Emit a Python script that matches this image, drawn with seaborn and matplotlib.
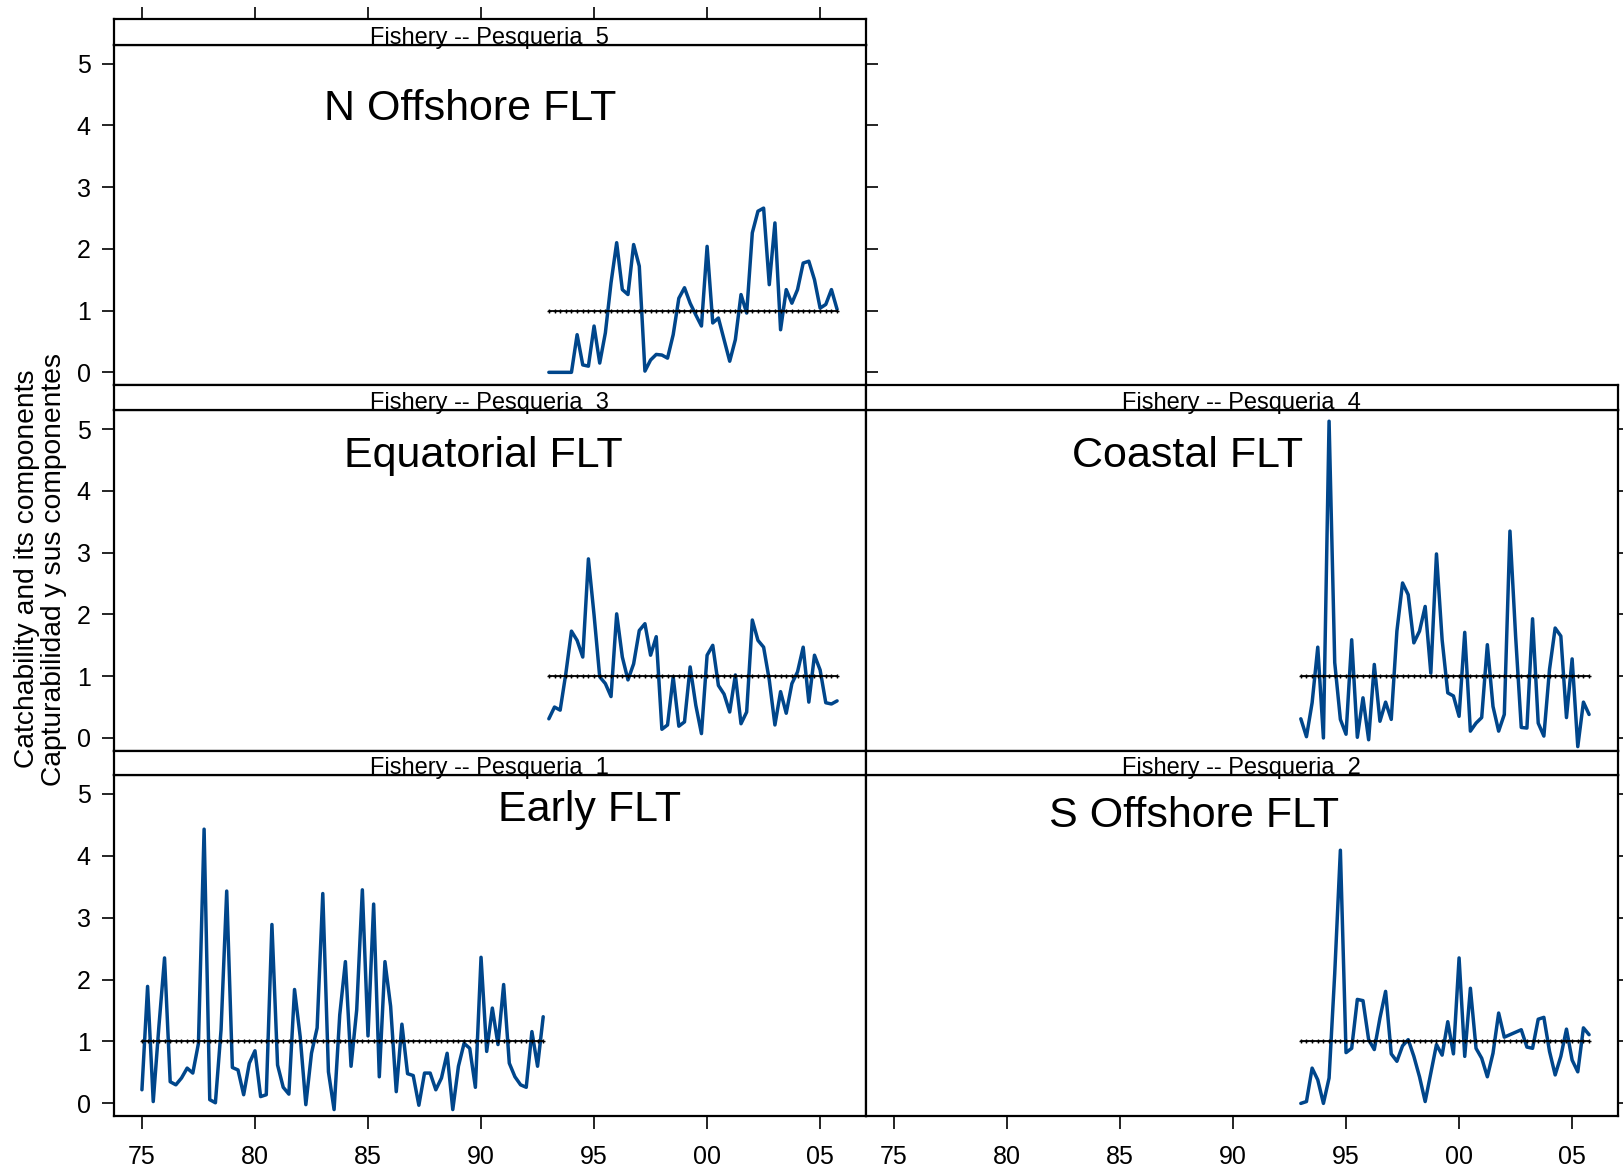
import numpy as np
import pandas as pd
import matplotlib
matplotlib.use("Agg")
import matplotlib.pyplot as plt
import seaborn as sns

sns.set_style("ticks")
plt.rcParams['font.family'] = ['Liberation Sans', 'DejaVu Sans']

# ---------------- data ----------------
years_early = np.arange(1975.0, 1993.0, 0.25)   # 72 quarters
years_late = np.arange(1993.0, 2006.0, 0.25)    # 52 quarters

q_fishery1 = [0.22, 1.89, 0.03, 1.24, 2.35, 0.35, 0.30, 0.41, 0.57, 0.49,
              0.97, 4.43, 0.06, 0.01, 1.19, 3.43, 0.58, 0.54, 0.14, 0.65,
              0.85, 0.11, 0.14, 2.89, 0.62, 0.26, 0.15, 1.84, 1.08, -0.02,
              0.81, 1.22, 3.39, 0.51, -0.10, 1.43, 2.29, 0.60, 1.51, 3.45,
              1.09, 3.22, 0.43, 2.29, 1.57, 0.19, 1.28, 0.48, 0.45, -0.03,
              0.49, 0.49, 0.22, 0.41, 0.81, -0.10, 0.60, 0.97, 0.89, 0.26,
              2.36, 0.84, 1.54, 0.95, 1.92, 0.65, 0.43, 0.30, 0.26, 1.16,
              0.60, 1.40]
q_fishery2 = [0.00, 0.03, 0.57, 0.38, 0.00, 0.41, 2.10, 4.09, 0.82, 0.89,
              1.68, 1.66, 1.03, 0.87, 1.38, 1.81, 0.80, 0.68, 0.93, 1.03,
              0.76, 0.43, 0.03, 0.49, 0.95, 0.78, 1.32, 0.80, 2.35, 0.76,
              1.86, 0.89, 0.73, 0.43, 0.81, 1.46, 1.07, 1.11, 1.15, 1.19,
              0.91, 0.89, 1.36, 1.39, 0.84, 0.46, 0.76, 1.20, 0.70, 0.51,
              1.22, 1.11]
q_fishery3 = [0.31, 0.50, 0.45, 1.04, 1.73, 1.58, 1.31, 2.90, 1.99, 0.99,
              0.88, 0.67, 2.01, 1.31, 0.94, 1.20, 1.74, 1.85, 1.34, 1.64,
              0.14, 0.21, 0.99, 0.19, 0.26, 1.15, 0.53, 0.07, 1.34, 1.50,
              0.85, 0.71, 0.42, 1.02, 0.23, 0.42, 1.91, 1.58, 1.47, 0.94,
              0.21, 0.75, 0.40, 0.88, 1.07, 1.47, 0.58, 1.34, 1.10, 0.57,
              0.55, 0.60]
q_fishery4 = [0.31, 0.02, 0.57, 1.47, 0.00, 5.13, 1.22, 0.30, 0.06, 1.59,
              0.01, 0.65, -0.03, 1.19, 0.27, 0.58, 0.30, 1.73, 2.51, 2.32,
              1.54, 1.73, 2.13, 1.05, 2.98, 1.59, 0.73, 0.68, 0.35, 1.71,
              0.11, 0.24, 0.33, 1.51, 0.51, 0.11, 0.38, 3.35, 1.65, 0.17,
              0.16, 1.93, 0.24, 0.03, 1.11, 1.78, 1.65, 0.33, 1.28, -0.14,
              0.58, 0.38]
q_fishery5 = [0.00, 0.00, 0.00, 0.00, 0.00, 0.61, 0.12, 0.10, 0.75, 0.15,
              0.64, 1.45, 2.10, 1.34, 1.26, 2.07, 1.72, 0.02, 0.20, 0.29,
              0.28, 0.23, 0.61, 1.20, 1.37, 1.12, 0.93, 0.75, 2.04, 0.80,
              0.88, 0.53, 0.18, 0.53, 1.26, 0.96, 2.26, 2.61, 2.66, 1.42,
              2.42, 0.69, 1.34, 1.12, 1.34, 1.77, 1.80, 1.50, 1.04, 1.10,
              1.34, 1.02]
reference_level = 1.0

fishery_ids = [5, 3, 4, 1, 2]
fishery_names = ["N Offshore FLT", "Equatorial FLT", "Coastal FLT",
                 "Early FLT", "S Offshore FLT"]
tick_years = [1975, 1980, 1985, 1990, 1995, 2000, 2005]
tick_labels = ["75", "80", "85", "90", "95", "00", "05"]
y_ticks = [0, 1, 2, 3, 4, 5]

series = {1: (years_early, q_fishery1), 2: (years_late, q_fishery2),
          3: (years_late, q_fishery3), 4: (years_late, q_fishery4),
          5: (years_late, q_fishery5)}

# ---------------- layout ----------------
W, H = 1624, 1169
BLUE = "#00468B"
fig = plt.figure(figsize=(W / 100, H / 100), dpi=100)
fig.patch.set_facecolor("white")


def box(x0, y0, x1, y1):
    return [x0 / W, 1 - y1 / H, (x1 - x0) / W, (y1 - y0) / H]


col_x = [(113.9, 865.8), (865.8, 1617.8)]
row_y = [(18.6, 44.5, 385.3), (385.3, 410.1, 750.9), (750.9, 774.7, 1116.4)]
# (col, row, title x (year), title y)
placement = [(0, 0, 1989.5, 4.26), (0, 1, 1990.1, 4.57), (1, 1, 1988.0, 4.56),
             (0, 2, 1994.8, 4.74), (1, 2, 1988.3, 4.64)]
XLIM = (1973.76, 2007.02)
YLIM = (-0.21, 5.31)

for fid, name, (c, r, tx, ty) in zip(fishery_ids, fishery_names, placement):
    x0, x1 = col_x[c]
    s0, p0, p1 = row_y[r]
    ax = fig.add_axes(box(x0, p0, x1, p1))
    st = fig.add_axes(box(x0, s0, x1, p0))

    yrs, vals = series[fid]
    df = pd.DataFrame({"year": yrs, "q": vals,
                       "ref": np.full(len(yrs), reference_level)})
    sns.lineplot(data=df, x="year", y="q", ax=ax, color=BLUE, lw=2.5,
                 zorder=3, estimator=None, sort=False)
    sns.lineplot(data=df, x="year", y="ref", ax=ax, color="black", lw=1.3,
                 marker="+", markersize=3.5, markeredgewidth=1.0,
                 markeredgecolor="black", zorder=4, estimator=None, sort=False)

    ax.set_xlim(XLIM)
    ax.set_ylim(YLIM)
    ax.set_xlabel("")
    ax.set_ylabel("")
    for sp in ax.spines.values():
        sp.set_visible(True)
        sp.set_linewidth(1.6)
        sp.set_color("black")
    ax.text(tx, ty, name, fontsize=31, ha="center", va="center",
            color="black", zorder=5)

    ax.set_xticks(tick_years)
    ax.set_yticks(y_ticks)
    ax.tick_params(axis="both", direction="out", width=1.2,
                   color="black", labelsize=18, labelcolor="black")
    ax.tick_params(axis="x", length=9.5)
    ax.tick_params(axis="y", length=8.6)
    # x ticks only on bottom row
    if r == 2:
        ax.tick_params(axis="x", bottom=True, labelbottom=True, top=False,
                       labeltop=False, pad=11)
        ax.set_xticklabels(tick_labels)
    else:
        ax.tick_params(axis="x", bottom=False, labelbottom=False, top=False,
                       labeltop=False)
    # y ticks
    if c == 0:
        ax.tick_params(axis="y", left=True, labelleft=True, pad=8,
                       right=(r == 0), labelright=False)
    else:
        ax.tick_params(axis="y", left=False, labelleft=False,
                       right=True, labelright=False)

    # strip
    st.set_xlim(XLIM)
    st.set_ylim(0, 1)
    st.set_yticks([])
    for sp in st.spines.values():
        sp.set_visible(True)
        sp.set_linewidth(1.6)
        sp.set_color("black")
    if r == 0:
        st.set_xticks(tick_years)
        st.tick_params(axis="x", top=True, bottom=False, labeltop=False,
                       labelbottom=False, direction="out", length=9,
                       width=1.2, color="black")
    else:
        st.set_xticks([])
    st.text(0.5, 0.03, f"Fishery -- Pesqueria  {fid}", transform=st.transAxes,
            ha="center", va="baseline", fontsize=17, color="black")

fig.text(41 / W, 1 - 569 / H,
         "Catchability and its components\nCapturabilidad y sus componentes",
         rotation=90, ha="center", va="center", fontsize=20.3,
         linespacing=1.05, color="black")

fig.savefig("out.png", dpi=100, facecolor="white")
